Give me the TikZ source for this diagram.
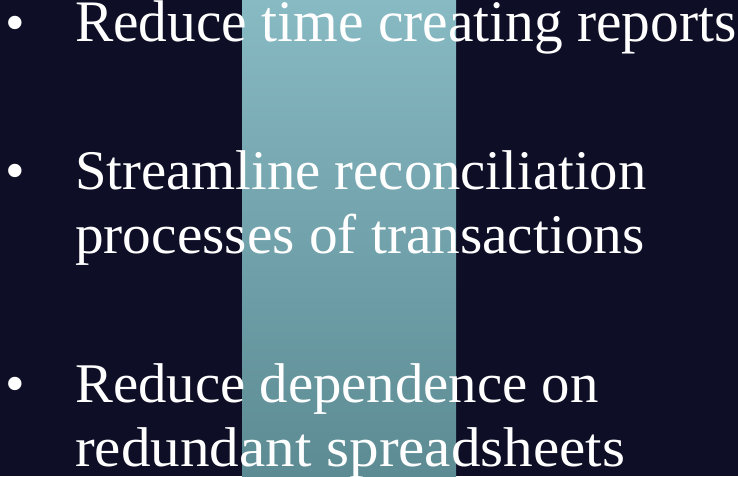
\documentclass[tikz,border=0pt]{standalone}
\usepackage{fontspec}
\setmainfont{Liberation Serif}
\usepackage{tikz}
\usetikzlibrary{positioning}

\definecolor{night}{RGB}{14,15,38}
\definecolor{bandtop}{RGB}{136,186,196}
\definecolor{bandbot}{RGB}{92,139,147}

\begin{document}
\begin{tikzpicture}[
            x = 1pt, y = -1pt, % pixel units, y downwards
            font = \fontsize{56}{64}\selectfont,
            text = white
        ]

        \tikzstyle{item}=[
            anchor = base west,
            inner sep = 0pt
        ]
        \tikzstyle{dot}=[
            anchor = base,
            inner sep = 0pt
        ]

        \useasboundingbox (0, 0) rectangle (738, 476);
        \fill[night] (0, 0) rectangle (738, 476);
        \shade[top color = bandtop, bottom color = bandbot] (242, 0) rectangle (456, 476);

        \node[item] (R1) at (75, 42) {\scalebox{1.025}[1.05]{Reduce time creating reports}};
        \node[item] (S1) at (75, 189) {\scalebox{1.012}[1]{Streamline reconciliation}};
        \node[item] (S2) at (75, 253) {\scalebox{1.023}[1]{processes of transactions}};
        \node[item] (D1) at (75, 402) {\scalebox{1.014}[1]{Reduce dependence on}};
        \node[item] (D2) at (75, 466) {\scalebox{1.056}[1]{redundant spreadsheets}};

        \node[dot] (B1) at (15, 42) {\textbullet};
        \node[dot] (B2) at (15, 189) {\textbullet};
        \node[dot] (B3) at (15, 402) {\textbullet};

        %\draw[red] (75, 0) -- (75, 476);
    \end{tikzpicture}
\end{document}
